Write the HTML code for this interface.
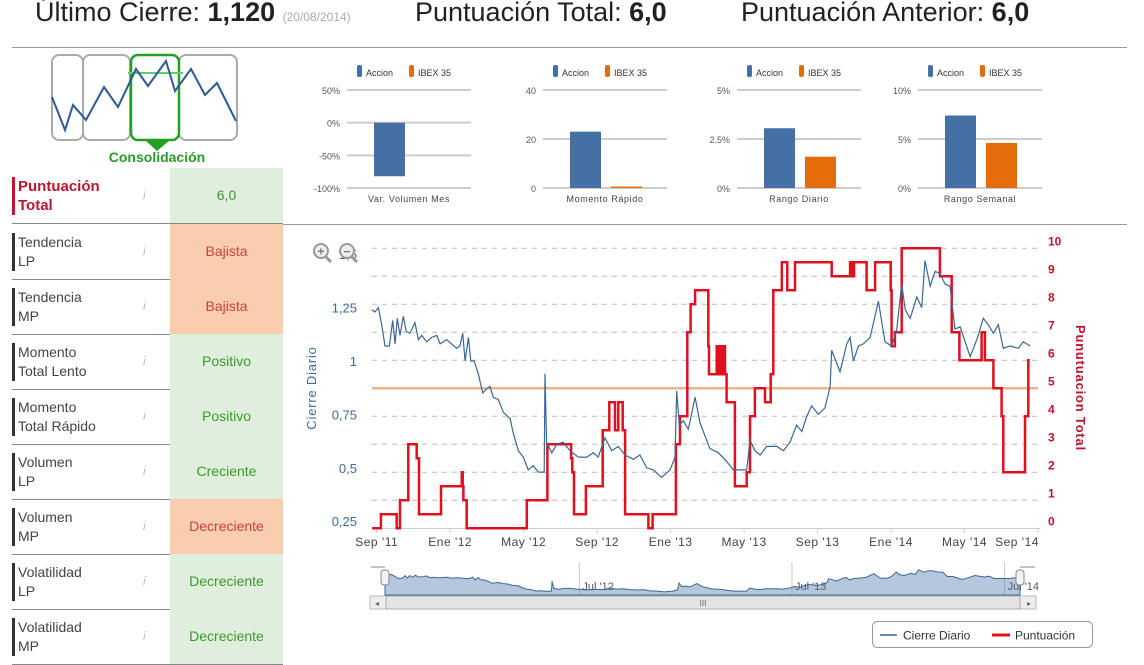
<!DOCTYPE html>
<html><head><meta charset="utf-8"><style>
body{margin:0;width:1144px;height:648px;overflow:hidden;background:#fff;font-family:"Liberation Sans",sans-serif;position:relative}
.hdr{position:absolute;top:-3px;font-size:27px;color:#222;white-space:nowrap}
.hdr b{font-size:27px}
.row{position:absolute;left:12px;width:271px;height:55px;border-bottom:1px solid #888}
.lab{position:absolute;left:0;top:9px;font-size:14px;line-height:19px;color:#444;border-left:3px solid #333;padding-left:3px}
.inf{position:absolute;left:131px;top:20px;font-size:12px;color:#bbb;font-style:italic}
.val{position:absolute;left:158px;top:0;width:113px;height:55px;text-align:center;line-height:55px;font-size:14px}
.g{background:#e0efdd;color:#3a9a2a}.o{background:#facdae;color:#c9413a}
</style></head><body>
<div class="hdr" style="left:35px">Último Cierre: <b>1,120</b> <span style="font-size:12px;color:#aaa">(20/08/2014)</span></div>
<div class="hdr" style="left:415px">Puntuación Total: <b>6,0</b></div>
<div class="hdr" style="left:741px">Puntuación Anterior: <b>6,0</b></div>
<div style="position:absolute;left:12px;top:47px;width:1115px;height:1px;background:#999"></div>
<div style="position:absolute;left:283px;top:224px;width:844px;height:1px;background:#999"></div>

<svg style="position:absolute;left:0;top:50px" width="283" height="120">
<g fill="#fff" stroke="#aaa" stroke-width="2">
<rect x="52" y="5" width="31" height="85" rx="7"/><rect x="83" y="5" width="47" height="85" rx="7"/><rect x="179" y="5" width="58" height="85" rx="7"/></g>
<rect x="131" y="5" width="48" height="85" rx="7" fill="none" stroke="#22a022" stroke-width="2.5"/>
<polygon points="145,90 170,90 157,101" fill="#22a022"/>
<line x1="128" y1="23" x2="183" y2="23" stroke="#6c6" stroke-width="2"/>
<polyline fill="none" stroke="#2c5a93" stroke-width="2" points="52,47 65,80 73,55 86,70 104,37 118,57 136,19 148,36 166,11 175,41 191,19 205,45 217,33 236,71"/>
<text x="157" y="112" text-anchor="middle" font-size="14" font-weight="bold" fill="#2a9a2a">Consolidación</text>
</svg>

<div id="rows"></div>

<svg id="mini" style="position:absolute;left:0;top:0" width="1144" height="225"></svg>
<svg id="main" style="position:absolute;left:0;top:0" width="1144" height="648"></svg>

<script>
const rowLabels=[["Puntuación","Total"],["Tendencia","LP"],["Tendencia","MP"],["Momento","Total Lento"],["Momento","Total Rápido"],["Volumen","LP"],["Volumen","MP"],["Volatilidad","LP"],["Volatilidad","MP"]];
const rowValues=["6,0","Bajista","Bajista","Positivo","Positivo","Creciente","Decreciente","Decreciente","Decreciente"];
const rowClass=["g","o","o","g","g","g","o","g","g"];
const rc=document.getElementById('rows');
rowLabels.forEach((l,i)=>{
 const r=document.createElement('div');r.className='row';
 
 
 r.style.top=(i==0?168:224+(i-1)*55)+'px';
 const first=i==0;
 r.innerHTML=`<div class="lab" style="${first?'color:#c0142c;font-weight:bold;font-size:15px;border-color:#c0142c':''}">${l[0]}<br>${l[1]}</div><span class="inf">i</span><div class="val ${rowClass[i]}">${rowValues[i]}</div>`;
 const v=r.querySelector('.val');
 
 
 const ic=r.querySelector('.inf');
 
 
 rc.appendChild(r);
});

const NS='http://www.w3.org/2000/svg';
function el(p,t,a,txt){const e=document.createElementNS(NS,t);for(const k in a)e.setAttribute(k,a[k]);if(txt!=null)e.textContent=txt;p.appendChild(e);return e;}
const miniCats=["Var. Volumen Mes","Momento Rápido","Rango Diario","Rango Semanal"];
const miniAccion=[-82,23,3.05,7.4];
const miniIbex=[0,0.6,1.6,4.6];
const miniMin=[-100,0,0,0];
const miniMax=[50,40,5,10];
const miniTicks=[["50%","0%","-50%","-100%"],["40","20","0"],["5%","2.5%","0%"],["10%","5%","0%"]];
const miniLeft=[347,543,737,918];
const mini=document.getElementById('mini');
miniCats.forEach((c,i)=>{
 const x0=miniLeft[i],w=124,top=90,bot=188;
 const ys=v=>bot-(v-miniMin[i])/(miniMax[i]-miniMin[i])*(bot-top);
 const g=el(mini,'g',{});
 
 
 const tk=miniTicks[i];
 tk.forEach((t,j)=>{const y=top+j*(bot-top)/(tk.length-1);
  el(g,'line',{x1:x0,x2:x0+w,y1:y,y2:y,stroke:'#ccc','stroke-width':2});
  el(g,'text',{x:x0-7,y:y+4,'text-anchor':'end','font-size':9,fill:'#555'},t);});
 const z=ys(0);
 const a=ys(miniAccion[i]);
 el(g,'rect',{x:x0+w/2-35,y:Math.min(a,z),width:31,height:Math.abs(z-a),fill:'#4470a6'});
 if(i>0){const b=ys(miniIbex[i]);el(g,'rect',{x:x0+w/2+6,y:Math.min(b,z),width:31,height:Math.max(1,Math.abs(z-b)),fill:'#e46c0a'});}
 el(g,'text',{x:x0+w/2,y:202,'text-anchor':'middle','font-size':9,fill:'#444','letter-spacing':'0.6'},c);
 const lx=x0+w/2-52;
 el(g,'rect',{x:lx,y:65,width:5,height:12,rx:2,fill:'#4470a6'});
 el(g,'text',{x:lx+9,y:76,'font-size':9,fill:'#333'},'Accion');
 el(g,'rect',{x:lx+52,y:65,width:5,height:12,rx:2,fill:'#e46c0a'});
 el(g,'text',{x:lx+61,y:76,'font-size':9,fill:'#333'},'IBEX 35');
});

const closeMonths=[-0.27,-0.09,0.09,0.27,0.45,0.69,0.87,1.0,1.12,1.27,1.45,1.6,1.81,2.08,2.27,2.45,2.72,2.99,3.27,3.45,3.81,4.08,4.35,4.53,4.68,4.81,4.99,5.12,5.30,5.53,5.77,5.99,6.17,6.35,6.62,6.89,7.26,7.44,7.71,7.98,8.25,8.52,8.80,9.12,9.16,9.25,9.53,9.80,10.16,10.52,10.98,11.43,11.79,12.06,12.43,12.79,13.15,13.52,13.97,14.33,14.70,15.06,15.51,15.97,16.24,16.33,16.47,16.69,16.96,17.33,17.60,18.14,18.60,19.05,19.41,20.14,20.32,20.59,20.87,21.23,21.78,22.14,22.50,22.86,23.14,23.41,23.68,24.04,24.40,24.68,24.77,25.22,25.59,25.77,25.95,26.22,26.49,26.86,27.31,27.67,28.03,28.31,28.58,28.77,29.04,29.40,29.67,29.85,30.13,30.40,30.66,30.94,31.21,31.48,31.76,32.03,32.31,32.67,33.02,33.29,33.57,33.84,34.11,34.48,34.93,35.20,35.57];
const closeValues=[1.24,1.23,1.25,1.17,1.07,1.07,1.19,1.08,1.2,1.12,1.21,1.14,1.13,1.18,1.1,1.12,1.09,1.11,1.12,1.08,1.10,1.08,1.06,1.07,1.13,1.0,1.11,1.0,1.0,0.94,0.85,0.87,0.88,0.83,0.82,0.76,0.73,0.66,0.58,0.55,0.49,0.51,0.48,0.48,0.94,0.62,0.57,0.61,0.62,0.58,0.55,0.55,0.57,0.55,0.64,0.58,0.6,0.56,0.54,0.56,0.5,0.49,0.455,0.49,0.55,0.86,0.7,0.72,0.68,0.83,0.71,0.59,0.57,0.53,0.49,0.49,0.63,0.58,0.56,0.6,0.6,0.58,0.62,0.7,0.67,0.74,0.79,0.75,0.78,0.88,1.05,0.95,1.08,1.11,1.0,1.07,1.08,1.11,1.28,1.09,1.07,1.15,1.36,1.24,1.2,1.3,1.25,1.47,1.35,1.42,1.41,1.36,1.35,1.15,1.16,1.09,1.02,1.1,1.2,1.17,1.13,1.17,1.06,1.07,1.06,1.09,1.07];
const scoreMonths=[-0.25,0.23,1.09,1.27,1.72,2.18,2.30,3.50,4.63,4.68,4.72,4.90,8.17,9.29,10.58,10.65,10.74,11.39,12.30,12.66,12.97,13.15,13.39,13.52,14.79,15.02,16.29,16.51,16.91,17.09,17.33,18.05,18.09,18.51,18.6,18.7,18.8,18.9,18.96,19.05,19.50,20.14,20.32,20.59,21.14,21.45,21.59,22.05,22.35,22.77,24.77,25.77,25.86,25.98,26.67,27.13,27.98,28.03,28.21,28.58,30.66,31.30,31.72,32.93,33.11,33.57,34.02,34.11,35.29,35.47,35.55];
const scoreValues=[0,0.5,0,1,3,2.5,0.5,1.5,2,1.5,1,0,1,3,2.5,2,0.5,1.5,3.5,4.5,3.5,4.5,3.5,0.5,0,0.5,3,4,7,8,8.5,6.5,5.5,6.5,5.5,6.5,5.5,6.5,5.5,4.5,1.5,2,4,5,4.5,5.5,8.5,9.5,8.5,9.5,9,9.5,9,9.5,8.5,9.5,8.5,6.5,7,10,9,7,6,7,6,5,4,2,4,6,6];
const xTickLabels=["Sep '11","Ene '12","May '12","Sep '12","Ene '13","May '13","Sep '13","Ene '14","May '14","Sep '14"];
const xTickMonths=[0,4,8,12,16,20,24,28,32,36];
const leftTicks=[0.25,0.5,0.75,1,1.25,1.5];
const rightTicks=[0,1,2,3,4,5,6,7,8,9,10];
const refLine=5;
const navLabels=["Jul '12","Jul '13","Jul '14"];
const navMonths=[10,22,34];

const X=m=>376.7+m*18.37;
const YL=v=>361-(v-1)*213.6;
const YR=v=>528.3-v*28;
const S=document.getElementById('main');
const fmt=v=>String(v).replace('.',',');
rightTicks.forEach(t=>{
 if(t>0){const gl=el(S,'line',{x1:372,x2:1040,y1:YR(t),y2:YR(t),stroke:'#bbb','stroke-dasharray':'5,5'});
 
 }
 const tt=el(S,'text',{x:1048,y:YR(t)-3,'font-size':12,fill:'#c0142c','font-weight':'bold'},t);
 
 
});
leftTicks.forEach(t=>{
 const tt=el(S,'text',{x:357,y:YL(t)+5,'text-anchor':'end','font-size':13,fill:'#3d6a9b'},fmt(t));
 
 
});
el(S,'line',{x1:372,x2:1040,y1:528.5,y2:528.5,stroke:'#c0d0e0','stroke-width':1});
xTickLabels.forEach((l,i)=>{
 const x=X(xTickMonths[i]);
 el(S,'line',{x1:x,x2:x,y1:528,y2:533,stroke:'#c0d0e0'});
 const tt=el(S,'text',{x:x+(i==9?-21:0),y:546,'text-anchor':'middle','font-size':12,fill:'#444','letter-spacing':'0.5'},l);
 
 
});
const rl=el(S,'line',{x1:372,x2:1038,y1:YR(refLine),y2:YR(refLine),stroke:'#eab48d','stroke-width':2.5});


let d='';
scoreMonths.forEach((m,i)=>{const x=X(m).toFixed(1),y=YR(scoreValues[i]).toFixed(1);
 if(i==0)d+=`M${x},${y}`;else d+=`H${x}V${y}`;});
const sp=el(S,'path',{d:d,fill:'none',stroke:'#e0101e','stroke-width':2.5});


const cp=el(S,'polyline',{points:closeMonths.map((m,i)=>X(m).toFixed(1)+','+YL(closeValues[i]).toFixed(1)).join(' '),fill:'none',stroke:'#3a6796','stroke-width':1.2});


const lt=el(S,'text',{x:0,y:0,transform:'translate(316,388) rotate(-90)','text-anchor':'middle','font-size':13,fill:'#3d6a9b','letter-spacing':'0.8'},'Cierre Diario');


const rt=el(S,'text',{x:0,y:0,transform:'translate(1076,388) rotate(90)','text-anchor':'middle','font-size':13,fill:'#c0142c','font-weight':'bold','letter-spacing':'0.8'},'Punutuacion Total');


[[321,'+'],[347,'−']].forEach(([x,s],i)=>{
 const g=el(S,'g',{});
 
 
 el(g,'line',{x1:x+4,y1:256,x2:x+10,y2:262,stroke:'#999','stroke-width':3});
 el(g,'circle',{cx:x,cy:251,r:7,fill:'#eee',stroke:'#999','stroke-width':2});
 el(g,'text',{x:x,y:255.5,'text-anchor':'middle','font-size':12,'font-weight':'bold',fill:'#777'},s);
});
const NX=m=>385+(m+0.27)*(635/35.84);
const NY=v=>592-(v-0.45)*22;
const ng=el(S,'g',{});


navMonths.forEach((m,i)=>{const x=NX(m+0.7);el(ng,'line',{x1:x,x2:x,y1:562,y2:595,stroke:'#ccc'});
 el(ng,'text',{x:x+3,y:590,'font-size':11,fill:'#555'},navLabels[i]);});
let a=`M${NX(closeMonths[0])},595 `+closeMonths.map((m,i)=>`L${NX(m).toFixed(1)},${NY(closeValues[i]).toFixed(1)}`).join(' ')+` L${NX(closeMonths[closeMonths.length-1])},595Z`;
el(ng,'path',{d:a,fill:'rgba(69,114,167,0.4)',stroke:'#3a6796','stroke-width':1});
el(ng,'path',{d:'M371,567H385M1020,567H1035',stroke:'#888',fill:'none'});
[385,1020].forEach(x=>el(ng,'rect',{x:x-4,y:570,width:8,height:15,rx:3,fill:'#f2f2f2',stroke:'#888'}));
el(ng,'rect',{x:370,y:596,width:666,height:13,fill:'#eee',stroke:'#bbb'});
el(ng,'rect',{x:386,y:596,width:634,height:13,rx:2,fill:'#e4e4e4',stroke:'#aaa'});
el(ng,'text',{x:703,y:606,'text-anchor':'middle','font-size':8,fill:'#666'},'III');
el(ng,'text',{x:377,y:606,'text-anchor':'middle','font-size':8,fill:'#666'},'◂');
el(ng,'text',{x:1029,y:606,'text-anchor':'middle','font-size':8,fill:'#666'},'▸');
const lg=el(S,'g',{});


el(lg,'rect',{x:872.5,y:621.5,width:220,height:26,rx:5,fill:'#fff',stroke:'#999'});
const l1=el(lg,'g',{});


el(l1,'line',{x1:880,x2:897,y1:635,y2:635,stroke:'#3a6796','stroke-width':1.5});
el(l1,'text',{x:903,y:639.5,'font-size':12,fill:'#333'},'Cierre Diario');
const l2=el(lg,'g',{});


el(l2,'line',{x1:992,x2:1010,y1:635,y2:635,stroke:'#e0101e','stroke-width':3});
el(l2,'text',{x:1015,y:639.5,'font-size':12,fill:'#333'},'Puntuación');
</script>
</body></html>
